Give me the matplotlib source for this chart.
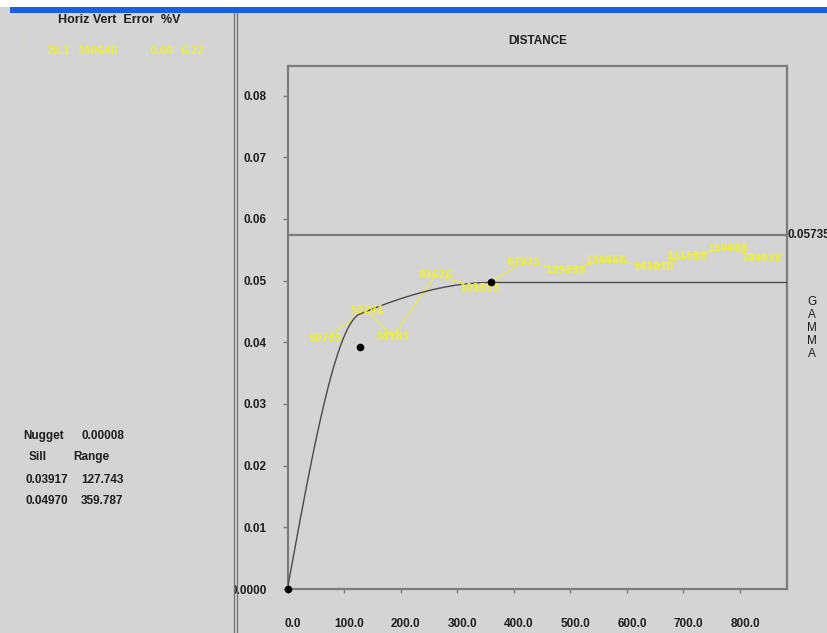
import numpy as np
import matplotlib
matplotlib.use("Agg")
import matplotlib.pyplot as plt
from matplotlib.patches import Rectangle
from matplotlib.lines import Line2D
from matplotlib.transforms import ScaledTranslation

# ---- model parameters (nested spherical variogram) ----
nugget = 0.00008
sills = [0.03917, 0.04970]
ranges = [127.743, 359.787]
sample_variance = 0.05735

# ---- experimental variogram: lag distance, gamma, number of pairs ----
lag_dist = [67, 140, 186, 261, 340, 417, 493, 564, 648, 707, 780, 840]
lag_gamma = [0.0407, 0.0453, 0.0409, 0.0509, 0.0488, 0.0530, 0.0517,
             0.0534, 0.0522, 0.0540, 0.0553, 0.0537]
pair_counts = ["50735", "53241", "38183", "83676", "101553", "67973",
               "129338", "136858", "141010", "131528", "150688", "144958"]

x_ticks = [0, 100, 200, 300, 400, 500, 600, 700, 800]
y_ticks = [0.0, 0.01, 0.02, 0.03, 0.04, 0.05, 0.06, 0.07, 0.08]
x_max = 883
y_max = 0.0848

# ---- summary panel text ----
header = "Horiz Vert  Error  %V"
direction_row = ["20.1", "540640", "0.00", "6.22"]

W, H = 827, 633
BG = "#d4d4d4"
YELLOW = "#eeee3c"
GRAY = "#7c7c7c"
INK = "#1e1e1e"
FONT = "Liberation Sans"
LABEL_FONT = "DejaVu Sans"
PX = 72 / 100  # points per pixel at 100 dpi


def fx(px):
    return px / W


def fy(py):
    return 1 - py / H


def spherical(h, a):
    r = np.minimum(np.asarray(h, dtype=float) / a, 1.0)
    return 1.5 * r - 0.5 * r ** 3


fig = plt.figure(figsize=(W / 100, H / 100), dpi=100, facecolor=BG)

ax = fig.add_axes([fx(287.5), fy(589), fx(787) - fx(287.5), fy(66) - fy(589)])
ax.set_facecolor(BG)
ax.set_xlim(0, x_max)
ax.set_ylim(0, y_max)
for sp in ax.spines.values():
    sp.set_color(GRAY)
    sp.set_linewidth(1.6)

# fitted model curve
h = np.linspace(0, x_max, 1200)
c1 = sills[0]
c2 = sills[1] - sills[0] - nugget
gamma = nugget + c1 * spherical(h, ranges[0]) + c2 * spherical(h, ranges[1])
gamma[0] = 0.0
ax.plot(h, gamma, color="#4a4a4a", lw=1.0, zorder=3)

# sample variance line
ax.axhline(sample_variance, color=GRAY, lw=1.6, zorder=2)
ax.text(1.001, sample_variance, f"{sample_variance:.5f}", transform=ax.get_yaxis_transform(),
        ha="left", va="center", fontsize=8.5, fontweight="bold", family=FONT,
        color=INK, clip_on=False)

# experimental points joined by a line, labelled with pair counts
ax.plot(lag_dist, lag_gamma, color=YELLOW, lw=0.8, zorder=2)
for d, g, n in zip(lag_dist, lag_gamma, pair_counts):
    ax.text(d, g, n, ha="center", va="center", fontsize=7, fontweight="bold",
            color=YELLOW, family=LABEL_FONT, zorder=4)

# structure markers: origin, sill/range pairs
ax.plot([0] + ranges, [0] + sills, "o", color="black", ms=4.5, zorder=5,
        clip_on=False)

# ticks
ax.set_xticks(x_ticks)
ax.set_xticklabels([f"{v:.1f}" for v in x_ticks])
ax.set_yticks(y_ticks)
ax.set_yticklabels(["0.0000"] + [f"{v:.2f}" for v in y_ticks[1:]])
ax.tick_params(axis="x", direction="out", length=4 * PX, width=1, color=GRAY,
               pad=25 * PX, labelsize=8.5, labelcolor=INK)
ax.tick_params(axis="y", direction="out", length=5 * PX, width=1, color=GRAY,
               pad=16 * PX, labelsize=8.5, labelcolor=INK)
for lab in ax.get_xticklabels():
    lab.set_fontweight("bold")
    lab.set_family(FONT)
    lab.set_transform(lab.get_transform() + ScaledTranslation(5 / 100, 0, fig.dpi_scale_trans))
for lab in ax.get_yticklabels():
    lab.set_fontweight("bold")
    lab.set_family(FONT)

fig.text(fx(538), fy(41), "DISTANCE", ha="center", va="center", fontsize=8.5,
         fontweight="bold", family=FONT, color=INK)
fig.text(fx(812), fy(296), "G\nA\nM\nM\nA", ha="center", va="top", fontsize=8.5,
         family=FONT, color=INK, linespacing=1.12)

# ---- window frame: title strip and left summary panel ----
fig.patches.append(Rectangle((0, fy(7)), 1, 1 - fy(7), transform=fig.transFigure,
                             facecolor="white", edgecolor="none", zorder=1))
fig.patches.append(Rectangle((fx(10), fy(13)), 1, fy(7) - fy(13), transform=fig.transFigure,
                             facecolor="#1a5fe0", edgecolor="none", zorder=1))
fig.patches.append(Rectangle((0, 0), fx(234.5), fy(13), transform=fig.transFigure,
                             facecolor=BG, edgecolor="none", zorder=1))
for xp in (234.3, 236.7):
    fig.lines.append(Line2D([fx(xp), fx(xp)], [0, fy(13)], transform=fig.transFigure,
                            color="#6e6e6e", lw=0.9, zorder=2))

fig.text(fx(119), fy(20), header, ha="center", va="center", fontsize=9,
         fontweight="bold", family=FONT, color=INK, zorder=5)
fig.text(fx(23), fy(46), "'", ha="center", va="center", fontsize=8,
         color=YELLOW, family=FONT, zorder=5)
row_x = [58, 98, 162, 192]
for xp, s in zip(row_x, direction_row):
    fig.text(fx(xp), fy(51), s, ha="center", va="center", fontsize=7,
             fontweight="bold", color=YELLOW, family=LABEL_FONT, zorder=5)

panel = dict(ha="left", va="center", fontsize=8.5, fontweight="bold",
             family=FONT, color=INK, zorder=5)
fig.text(fx(23), fy(436), "Nugget", **panel)
fig.text(fx(81), fy(436), f"{nugget:.5f}", **panel)
fig.text(fx(29), fy(457), "Sill", **panel)
fig.text(fx(73), fy(457), "Range", **panel)
for i, (s, r) in enumerate(zip(sills, ranges)):
    yp = 480 + 21 * i
    fig.text(fx(26), fy(yp), f"{s:.5f}", **panel)
    fig.text(fx(81), fy(yp), f"{r:.3f}", **panel)

fig.savefig("out.png", dpi=100, facecolor=BG)
